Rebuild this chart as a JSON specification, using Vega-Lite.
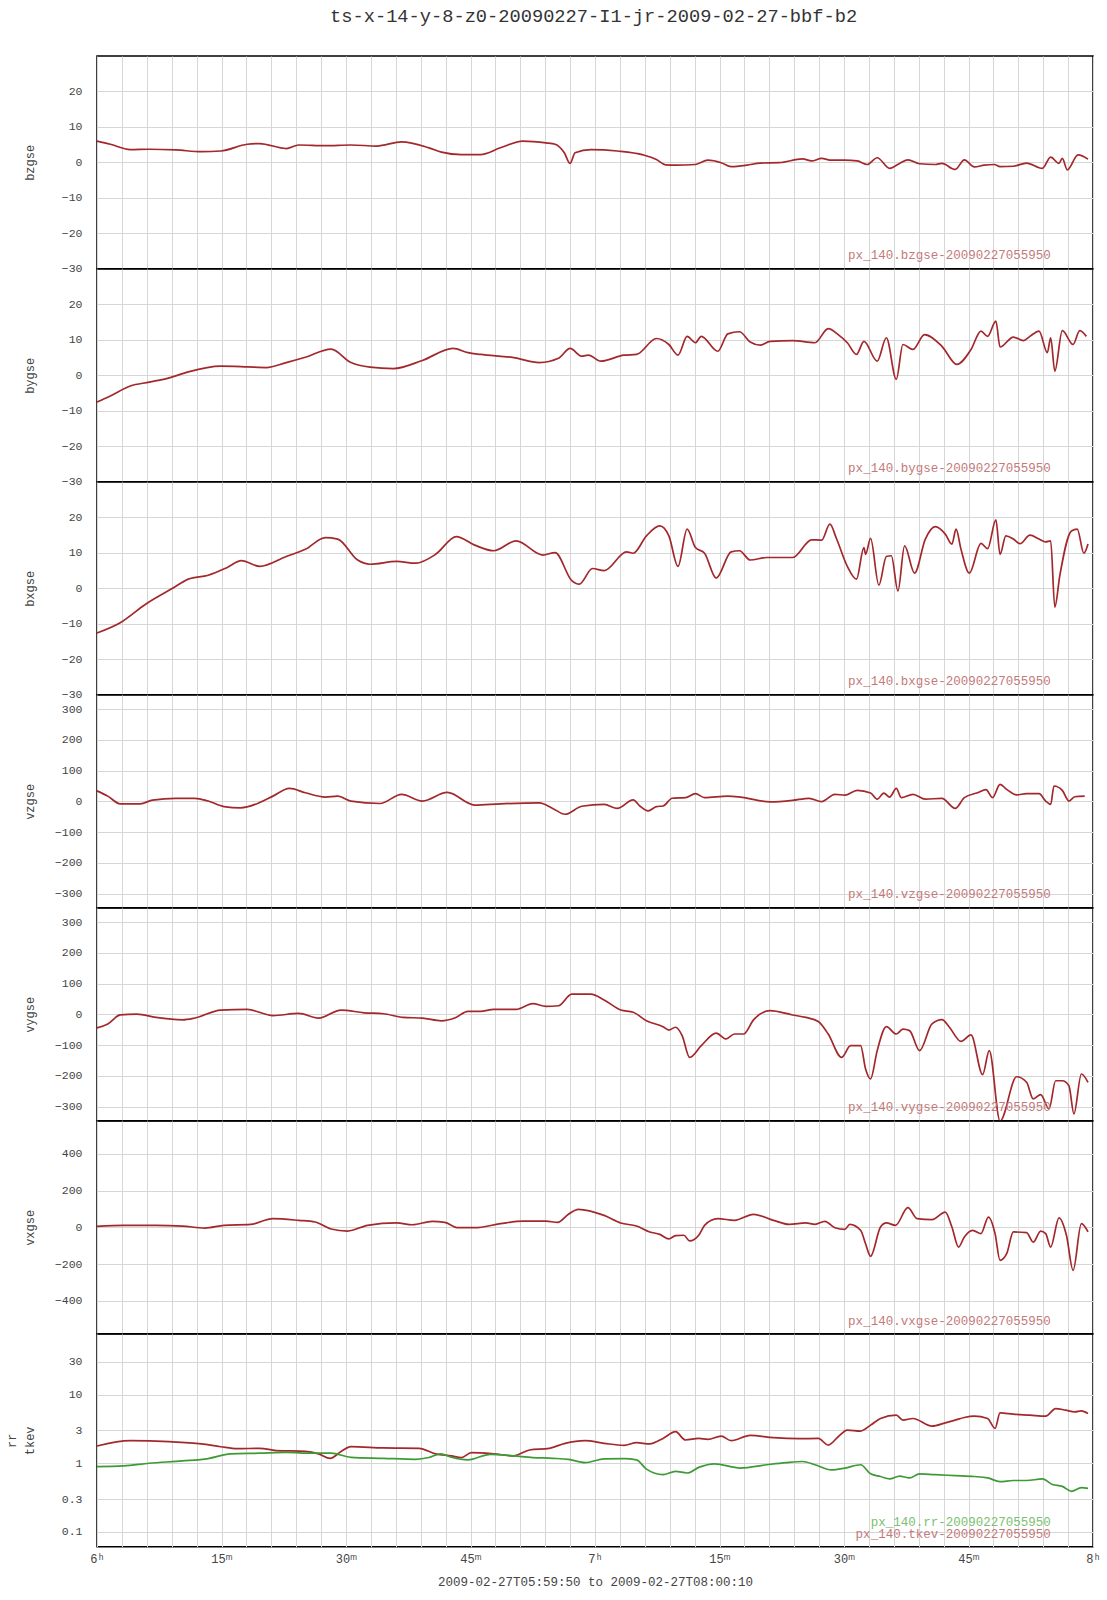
{
  "$schema": "https://vega.github.io/schema/vega-lite/v6.json",
  "padding": {"left": 4, "top": 6, "right": 10, "bottom": 4},
  "title": {"text": "ts-x-14-y-8-z0-20090227-I1-jr-2009-02-27-bbf-b2", "font": "Liberation Mono", "fontSize": 18.7, "fontWeight": "normal", "color": "#333333", "offset": 30, "anchor": "middle", "dx": 41},
  "spacing": 0,
  "bounds": "flush",
  "datasets": {
    "bz": [{"t":0,"v":6.0},{"t":1.6,"v":5.1},{"t":4.0,"v":3.6},{"t":6.3,"v":3.7},{"t":9.5,"v":3.5},{"t":12.6,"v":3.0},{"t":14.9,"v":3.2},{"t":18.1,"v":5.1},{"t":19.6,"v":5.3},{"t":22.8,"v":3.9},{"t":24.3,"v":4.9},{"t":27.5,"v":4.7},{"t":30.6,"v":4.9},{"t":33.7,"v":4.6},{"t":36.7,"v":5.8},{"t":40.0,"v":4.1},{"t":41.5,"v":2.9},{"t":43.9,"v":2.2},{"t":46.2,"v":2.2},{"t":48.6,"v":4.1},{"t":51.3,"v":6.0},{"t":54.1,"v":5.5},{"t":55.2,"v":5.1},{"t":56.3,"v":2.7},{"t":57.0,"v":-0.3},{"t":57.6,"v":2.7},{"t":59.5,"v":3.6},{"t":62.7,"v":3.2},{"t":65.8,"v":2.1},{"t":67.4,"v":0.8},{"t":68.5,"v":-0.7},{"t":69.7,"v":-0.8},{"t":72.1,"v":-0.6},{"t":73.6,"v":0.6},{"t":75.2,"v":-0.1},{"t":76.4,"v":-1.2},{"t":78.3,"v":-0.8},{"t":79.9,"v":-0.2},{"t":82.2,"v":-0.1},{"t":85.0,"v":1.0},{"t":86.1,"v":0.4},{"t":87.3,"v":1.1},{"t":88.5,"v":0.6},{"t":90.1,"v":0.6},{"t":91.6,"v":0.4},{"t":92.8,"v":-0.6},{"t":94.0,"v":1.3},{"t":95.5,"v":-1.7},{"t":96.7,"v":-0.3},{"t":97.7,"v":0.7},{"t":99.1,"v":-0.4},{"t":101.0,"v":-0.6},{"t":101.8,"v":-0.3},{"t":103.4,"v":-2.0},{"t":104.5,"v":0.7},{"t":105.7,"v":-1.3},{"t":106.9,"v":-0.8},{"t":108.1,"v":-0.6},{"t":108.8,"v":-1.2},{"t":110.4,"v":-1.1},{"t":112.0,"v":-0.2},{"t":113.9,"v":-1.7},{"t":114.9,"v":1.5},{"t":115.9,"v":-0.3},{"t":116.3,"v":1.1},{"t":116.9,"v":-2.1},{"t":118.2,"v":2.1},{"t":119.4,"v":0.9}],
    "by": [{"t":0,"v":-7.5},{"t":1.6,"v":-5.8},{"t":4.0,"v":-3.0},{"t":6.3,"v":-1.9},{"t":8.7,"v":-0.7},{"t":11.0,"v":1.0},{"t":14.9,"v":2.6},{"t":18.1,"v":2.4},{"t":20.4,"v":2.2},{"t":22.8,"v":3.6},{"t":25.1,"v":5.1},{"t":28.2,"v":7.4},{"t":30.6,"v":3.6},{"t":32.9,"v":2.3},{"t":35.7,"v":1.9},{"t":39.2,"v":4.2},{"t":42.9,"v":7.6},{"t":44.7,"v":6.4},{"t":46.2,"v":5.9},{"t":50.2,"v":5.0},{"t":53.3,"v":3.6},{"t":55.6,"v":4.8},{"t":57.0,"v":7.6},{"t":58.4,"v":5.4},{"t":59.2,"v":5.7},{"t":60.7,"v":4.0},{"t":63.5,"v":5.7},{"t":65.0,"v":5.9},{"t":67.4,"v":10.4},{"t":68.9,"v":8.7},{"t":70.0,"v":5.7},{"t":71.1,"v":11.0},{"t":72.1,"v":9.2},{"t":72.8,"v":11.0},{"t":74.8,"v":6.8},{"t":76.0,"v":11.7},{"t":77.4,"v":12.3},{"t":78.7,"v":9.4},{"t":79.9,"v":8.5},{"t":81.1,"v":9.6},{"t":83.8,"v":9.8},{"t":86.5,"v":9.2},{"t":88.1,"v":13.2},{"t":89.3,"v":11.5},{"t":90.4,"v":9.2},{"t":91.5,"v":5.9},{"t":92.4,"v":9.6},{"t":94.0,"v":4.0},{"t":95.1,"v":10.6},{"t":96.3,"v":-1.1},{"t":97.1,"v":8.7},{"t":98.3,"v":7.3},{"t":99.7,"v":11.5},{"t":101.8,"v":8.2},{"t":103.6,"v":3.1},{"t":105.3,"v":7.3},{"t":106.5,"v":12.5},{"t":107.3,"v":11.0},{"t":108.3,"v":15.3},{"t":108.8,"v":8.0},{"t":110.4,"v":10.8},{"t":111.6,"v":9.8},{"t":112.4,"v":11.0},{"t":113.5,"v":12.5},{"t":114.5,"v":6.4},{"t":114.9,"v":10.6},{"t":115.4,"v":1.2},{"t":116.3,"v":12.6},{"t":117.6,"v":8.7},{"t":118.4,"v":12.6},{"t":119.2,"v":11.0}],
    "bx": [{"t":0,"v":-12.6},{"t":2.8,"v":-9.7},{"t":5.9,"v":-4.4},{"t":9.1,"v":0},{"t":11.0,"v":2.6},{"t":13.4,"v":3.7},{"t":15.7,"v":5.9},{"t":17.4,"v":7.8},{"t":19.6,"v":6.2},{"t":22.8,"v":9.0},{"t":25.1,"v":11.0},{"t":27.5,"v":14.3},{"t":29.0,"v":13.9},{"t":31.4,"v":8.0},{"t":32.9,"v":6.8},{"t":36.1,"v":7.6},{"t":38.4,"v":7.1},{"t":40.8,"v":9.6},{"t":43.3,"v":14.6},{"t":45.5,"v":12.2},{"t":47.8,"v":10.6},{"t":50.5,"v":13.4},{"t":53.7,"v":9.4},{"t":55.2,"v":10.1},{"t":57.2,"v":2.2},{"t":58.1,"v":1.2},{"t":59.7,"v":5.6},{"t":61.1,"v":5.0},{"t":63.8,"v":10.3},{"t":64.6,"v":9.9},{"t":66.2,"v":14.8},{"t":67.8,"v":17.6},{"t":68.9,"v":14.8},{"t":70.0,"v":6.2},{"t":71.1,"v":16.7},{"t":72.1,"v":11.5},{"t":73.2,"v":9.9},{"t":74.6,"v":2.9},{"t":76.4,"v":10.3},{"t":77.4,"v":10.6},{"t":78.7,"v":8.0},{"t":80.7,"v":8.7},{"t":83.8,"v":8.7},{"t":86.1,"v":13.7},{"t":87.3,"v":13.6},{"t":88.3,"v":18.1},{"t":89.1,"v":14.0},{"t":90.4,"v":6.2},{"t":91.5,"v":2.6},{"t":92.4,"v":11.5},{"t":92.6,"v":9.6},{"t":93.2,"v":14.1},{"t":94.2,"v":0.9},{"t":95.1,"v":9.0},{"t":95.7,"v":9.2},{"t":96.5,"v":-0.7},{"t":97.3,"v":12.0},{"t":98.5,"v":4.3},{"t":99.8,"v":13.9},{"t":101.0,"v":17.4},{"t":102.2,"v":15.3},{"t":103.0,"v":12.5},{"t":103.5,"v":16.7},{"t":104.1,"v":11.0},{"t":105.1,"v":4.3},{"t":106.5,"v":12.7},{"t":107.3,"v":11.2},{"t":108.3,"v":19.3},{"t":108.8,"v":9.6},{"t":109.5,"v":14.8},{"t":110.4,"v":13.9},{"t":111.2,"v":12.6},{"t":112.4,"v":15.0},{"t":113.5,"v":13.9},{"t":114.3,"v":13.1},{"t":114.9,"v":13.4},{"t":115.4,"v":-5.3},{"t":116.0,"v":3.6},{"t":117.4,"v":16.2},{"t":118.1,"v":16.7},{"t":118.9,"v":9.9},{"t":119.4,"v":12.5}],
    "vz": [{"t":0,"v":34},{"t":1.3,"v":17},{"t":2.8,"v":-8},{"t":5.2,"v":-8},{"t":6.7,"v":4},{"t":9.5,"v":10},{"t":11.8,"v":10},{"t":13.4,"v":1},{"t":15.3,"v":-17},{"t":17.3,"v":-21},{"t":19.6,"v":-4},{"t":21.2,"v":17},{"t":23.2,"v":42},{"t":25.1,"v":28},{"t":27.5,"v":14},{"t":29.0,"v":17},{"t":30.6,"v":1},{"t":34.1,"v":-7},{"t":36.7,"v":23},{"t":39.2,"v":1},{"t":42.2,"v":29},{"t":45.5,"v":-12},{"t":48.6,"v":-8},{"t":53.3,"v":-5},{"t":54.9,"v":-23},{"t":56.4,"v":-42},{"t":58.4,"v":-16},{"t":61.1,"v":-10},{"t":62.7,"v":-23},{"t":64.6,"v":5},{"t":65.4,"v":-15},{"t":66.4,"v":-31},{"t":67.4,"v":-17},{"t":68.2,"v":-15},{"t":69.3,"v":10},{"t":70.9,"v":12},{"t":72.1,"v":25},{"t":73.2,"v":12},{"t":76.0,"v":17},{"t":77.5,"v":14},{"t":81.1,"v":-2},{"t":83.8,"v":3},{"t":85.8,"v":10},{"t":87.3,"v":-1},{"t":88.9,"v":23},{"t":90.1,"v":20},{"t":91.6,"v":36},{"t":93.2,"v":27},{"t":94.0,"v":7},{"t":94.8,"v":27},{"t":95.5,"v":14},{"t":96.3,"v":42},{"t":96.9,"v":12},{"t":98.3,"v":23},{"t":99.8,"v":7},{"t":101.8,"v":10},{"t":103.4,"v":-23},{"t":104.5,"v":12},{"t":106.1,"v":28},{"t":107.1,"v":38},{"t":107.9,"v":12},{"t":108.8,"v":55},{"t":109.6,"v":39},{"t":110.8,"v":21},{"t":112.0,"v":25},{"t":113.5,"v":25},{"t":114.3,"v":1},{"t":114.9,"v":-10},{"t":115.3,"v":50},{"t":116.3,"v":36},{"t":117.1,"v":1},{"t":117.8,"v":15},{"t":119.0,"v":17}],
    "vy": [{"t":0,"v":-44},{"t":1.3,"v":-31},{"t":2.8,"v":-2},{"t":4.8,"v":1},{"t":7.1,"v":-10},{"t":10.3,"v":-18},{"t":11.8,"v":-12},{"t":14.9,"v":14},{"t":18.1,"v":16},{"t":21.2,"v":-4},{"t":24.3,"v":3},{"t":26.7,"v":-12},{"t":29.4,"v":14},{"t":32.2,"v":5},{"t":34.5,"v":2},{"t":36.9,"v":-10},{"t":39.2,"v":-12},{"t":41.5,"v":-21},{"t":43.1,"v":-12},{"t":44.7,"v":10},{"t":46.2,"v":10},{"t":47.8,"v":16},{"t":50.5,"v":16},{"t":52.5,"v":35},{"t":54.1,"v":26},{"t":55.6,"v":28},{"t":57.2,"v":66},{"t":59.5,"v":66},{"t":61.1,"v":47},{"t":63.1,"v":14},{"t":64.6,"v":7},{"t":66.2,"v":-21},{"t":68.2,"v":-40},{"t":68.9,"v":-51},{"t":69.7,"v":-42},{"t":70.5,"v":-69},{"t":71.4,"v":-140},{"t":72.8,"v":-102},{"t":74.6,"v":-61},{"t":75.8,"v":-80},{"t":76.8,"v":-64},{"t":77.9,"v":-64},{"t":79.1,"v":-18},{"t":81.1,"v":12},{"t":83.8,"v":-2},{"t":85.4,"v":-10},{"t":86.9,"v":-23},{"t":88.1,"v":-64},{"t":89.7,"v":-140},{"t":90.8,"v":-102},{"t":92.0,"v":-102},{"t":92.6,"v":-178},{"t":93.2,"v":-210},{"t":94.0,"v":-118},{"t":95.1,"v":-40},{"t":96.3,"v":-64},{"t":97.1,"v":-48},{"t":97.9,"v":-53},{"t":99.1,"v":-118},{"t":100.6,"v":-31},{"t":101.8,"v":-17},{"t":102.7,"v":-42},{"t":104.1,"v":-88},{"t":105.3,"v":-67},{"t":106.7,"v":-196},{"t":107.5,"v":-118},{"t":108.8,"v":-347},{"t":110.8,"v":-203},{"t":112.0,"v":-221},{"t":112.8,"v":-275},{"t":113.7,"v":-261},{"t":114.7,"v":-308},{"t":115.5,"v":-216},{"t":116.3,"v":-216},{"t":117.1,"v":-232},{"t":117.7,"v":-324},{"t":118.6,"v":-194},{"t":119.4,"v":-221}],
    "vx": [{"t":0,"v":5},{"t":3.2,"v":11},{"t":7.1,"v":11},{"t":10.3,"v":7},{"t":13.0,"v":-4},{"t":15.3,"v":11},{"t":18.5,"v":16},{"t":21.2,"v":47},{"t":24.3,"v":38},{"t":26.3,"v":29},{"t":28.2,"v":-9},{"t":30.2,"v":-20},{"t":32.6,"v":11},{"t":36.1,"v":24},{"t":38.0,"v":14},{"t":40.4,"v":33},{"t":41.9,"v":27},{"t":43.5,"v":-2},{"t":45.5,"v":-2},{"t":48.6,"v":20},{"t":51.3,"v":34},{"t":54.1,"v":34},{"t":55.5,"v":27},{"t":56.8,"v":71},{"t":58.0,"v":98},{"t":61.1,"v":65},{"t":63.1,"v":24},{"t":65.0,"v":7},{"t":66.6,"v":-25},{"t":67.8,"v":-38},{"t":68.9,"v":-63},{"t":69.7,"v":-45},{"t":70.7,"v":-43},{"t":71.4,"v":-74},{"t":72.5,"v":-43},{"t":73.2,"v":11},{"t":74.8,"v":47},{"t":76.8,"v":38},{"t":79.1,"v":71},{"t":81.5,"v":38},{"t":83.4,"v":16},{"t":85.4,"v":24},{"t":86.5,"v":16},{"t":87.7,"v":33},{"t":88.9,"v":-2},{"t":90.1,"v":-11},{"t":90.7,"v":16},{"t":92.0,"v":-16},{"t":92.6,"v":-89},{"t":93.2,"v":-157},{"t":94.4,"v":2},{"t":95.1,"v":24},{"t":96.2,"v":11},{"t":97.7,"v":107},{"t":98.8,"v":47},{"t":100.6,"v":42},{"t":102.2,"v":83},{"t":103.0,"v":2},{"t":103.8,"v":-107},{"t":104.5,"v":-52},{"t":105.5,"v":-16},{"t":106.5,"v":-34},{"t":107.4,"v":56},{"t":108.2,"v":-34},{"t":108.8,"v":-179},{"t":109.6,"v":-143},{"t":110.4,"v":-25},{"t":112.0,"v":-29},{"t":112.8,"v":-80},{"t":113.7,"v":-20},{"t":114.3,"v":-34},{"t":114.9,"v":-107},{"t":115.9,"v":52},{"t":116.8,"v":-43},{"t":117.6,"v":-234},{"t":118.6,"v":20},{"t":119.4,"v":-25}],
    "tkev": [{"t":0,"v":1.78},{"t":4.0,"v":2.13},{"t":8.7,"v":2.06},{"t":12.6,"v":1.91},{"t":14.9,"v":1.74},{"t":16.9,"v":1.63},{"t":19.6,"v":1.65},{"t":21.6,"v":1.53},{"t":25.1,"v":1.49},{"t":26.7,"v":1.37},{"t":28.1,"v":1.18},{"t":29.4,"v":1.48},{"t":30.6,"v":1.74},{"t":34.5,"v":1.67},{"t":38.8,"v":1.65},{"t":40.8,"v":1.37},{"t":42.7,"v":1.28},{"t":43.9,"v":1.21},{"t":45.1,"v":1.43},{"t":47.8,"v":1.37},{"t":50.2,"v":1.28},{"t":52.1,"v":1.56},{"t":54.5,"v":1.65},{"t":56.4,"v":1.95},{"t":58.8,"v":2.13},{"t":61.1,"v":1.95},{"t":63.5,"v":1.82},{"t":65.0,"v":1.99},{"t":66.6,"v":1.91},{"t":68.2,"v":2.30},{"t":69.7,"v":2.88},{"t":70.9,"v":2.18},{"t":72.5,"v":2.30},{"t":73.6,"v":2.23},{"t":75.2,"v":2.49},{"t":76.4,"v":2.13},{"t":78.7,"v":2.55},{"t":81.5,"v":2.36},{"t":84.6,"v":2.28},{"t":86.9,"v":2.30},{"t":88.1,"v":1.84},{"t":89.3,"v":2.43},{"t":90.4,"v":3.04},{"t":92.0,"v":2.94},{"t":93.2,"v":3.59},{"t":94.4,"v":4.49},{"t":96.3,"v":5.02},{"t":97.1,"v":4.25},{"t":98.3,"v":4.49},{"t":100.6,"v":3.47},{"t":102.2,"v":3.88},{"t":103.4,"v":4.25},{"t":104.5,"v":4.64},{"t":105.7,"v":4.85},{"t":107.3,"v":4.49},{"t":108.2,"v":3.22},{"t":108.8,"v":5.42},{"t":110.4,"v":5.19},{"t":112.4,"v":5.02},{"t":114.3,"v":4.85},{"t":115.5,"v":6.27},{"t":116.7,"v":5.93},{"t":117.8,"v":5.61},{"t":118.6,"v":5.80},{"t":119.4,"v":5.31}],
    "rr": [{"t":0,"v":0.895},{"t":3.2,"v":0.915},{"t":6.3,"v":1.0},{"t":10.3,"v":1.08},{"t":13.4,"v":1.17},{"t":16.1,"v":1.37},{"t":19.6,"v":1.40},{"t":22.8,"v":1.44},{"t":25.9,"v":1.40},{"t":28.2,"v":1.40},{"t":30.6,"v":1.22},{"t":34.5,"v":1.18},{"t":38.4,"v":1.14},{"t":40.0,"v":1.21},{"t":41.4,"v":1.37},{"t":42.7,"v":1.22},{"t":44.7,"v":1.12},{"t":47.4,"v":1.35},{"t":50.2,"v":1.28},{"t":52.5,"v":1.21},{"t":54.9,"v":1.18},{"t":56.8,"v":1.14},{"t":58.8,"v":1.02},{"t":61.1,"v":1.16},{"t":63.5,"v":1.17},{"t":65.0,"v":1.12},{"t":66.2,"v":0.82},{"t":68.2,"v":0.68},{"t":69.7,"v":0.76},{"t":71.1,"v":0.72},{"t":72.5,"v":0.87},{"t":74.4,"v":0.98},{"t":77.5,"v":0.85},{"t":80.7,"v":0.95},{"t":83.0,"v":1.02},{"t":85.0,"v":1.06},{"t":86.5,"v":0.95},{"t":88.5,"v":0.80},{"t":90.1,"v":0.85},{"t":92.0,"v":0.95},{"t":93.2,"v":0.70},{"t":94.4,"v":0.64},{"t":95.5,"v":0.59},{"t":96.7,"v":0.65},{"t":97.9,"v":0.61},{"t":99.1,"v":0.70},{"t":101.0,"v":0.68},{"t":103.4,"v":0.66},{"t":105.7,"v":0.64},{"t":107.3,"v":0.61},{"t":108.8,"v":0.54},{"t":110.4,"v":0.56},{"t":112.0,"v":0.56},{"t":113.9,"v":0.59},{"t":115.1,"v":0.49},{"t":116.3,"v":0.46},{"t":117.4,"v":0.39},{"t":118.6,"v":0.44},{"t":119.4,"v":0.43}]
  },
  "vconcat": [
    {
      "width": 996, "height": 212.7,
      "layer": [
        {"data": {"name": "bz"}, "mark": {"type": "line", "color": "#a3282c", "strokeWidth": 1.7, "interpolate": "monotone"},
         "encoding": {
           "x": {"field": "t", "type": "quantitative", "scale": {"domain": [0, 120], "nice": false, "zero": false},
                 "axis": {"values": [0,3,6,9,12,15,18,21,24,27,30,33,36,39,42,45,48,51,54,57,60,63,66,69,72,75,78,81,84,87,90,93,96,99,102,105,108,111,114,117,120], "tickCount": 100, "labels": false, "title": null}},
           "y": {"field": "v", "type": "quantitative", "scale": {"domain": [-30, 30], "nice": false, "zero": false},
                 "axis": {"values": [-30,-20,-10,0,10,20], "tickCount": 20, "title": "bzgse"}}
         }},
        {"mark": {"type": "rule", "color": "black", "strokeWidth": 1.3}, "encoding": {"y": {"datum": 0}}},
        {"data": {"values": [{"label": "px_140.bzgse-20090227055950"}]},
         "mark": {"type": "text", "align": "right", "baseline": "alphabetic", "font": "Liberation Mono", "fontSize": 12.5, "color": "#c47a7a"},
         "encoding": {"x": {"datum": 114.9}, "y": {"datum": -27.4}, "text": {"field": "label"}}}
      ]
    },
    {
      "width": 996, "height": 212.7,
      "layer": [
        {"data": {"name": "by"}, "mark": {"type": "line", "color": "#a3282c", "strokeWidth": 1.7, "interpolate": "monotone"},
         "encoding": {
           "x": {"field": "t", "type": "quantitative", "scale": {"domain": [0, 120], "nice": false, "zero": false},
                 "axis": {"values": [0,3,6,9,12,15,18,21,24,27,30,33,36,39,42,45,48,51,54,57,60,63,66,69,72,75,78,81,84,87,90,93,96,99,102,105,108,111,114,117,120], "tickCount": 100, "labels": false, "title": null}},
           "y": {"field": "v", "type": "quantitative", "scale": {"domain": [-30, 30], "nice": false, "zero": false},
                 "axis": {"values": [-30,-20,-10,0,10,20], "tickCount": 20, "title": "bygse"}}
         }},
        {"mark": {"type": "rule", "color": "black", "strokeWidth": 1.3}, "encoding": {"y": {"datum": 0}}},
        {"data": {"values": [{"label": "px_140.bygse-20090227055950"}]},
         "mark": {"type": "text", "align": "right", "baseline": "alphabetic", "font": "Liberation Mono", "fontSize": 12.5, "color": "#c47a7a"},
         "encoding": {"x": {"datum": 114.9}, "y": {"datum": -27.4}, "text": {"field": "label"}}}
      ]
    },
    {
      "width": 996, "height": 212.7,
      "layer": [
        {"data": {"name": "bx"}, "mark": {"type": "line", "color": "#a3282c", "strokeWidth": 1.7, "interpolate": "monotone"},
         "encoding": {
           "x": {"field": "t", "type": "quantitative", "scale": {"domain": [0, 120], "nice": false, "zero": false},
                 "axis": {"values": [0,3,6,9,12,15,18,21,24,27,30,33,36,39,42,45,48,51,54,57,60,63,66,69,72,75,78,81,84,87,90,93,96,99,102,105,108,111,114,117,120], "tickCount": 100, "labels": false, "title": null}},
           "y": {"field": "v", "type": "quantitative", "scale": {"domain": [-30, 30], "nice": false, "zero": false},
                 "axis": {"values": [-30,-20,-10,0,10,20], "tickCount": 20, "title": "bxgse"}}
         }},
        {"mark": {"type": "rule", "color": "black", "strokeWidth": 1.3}, "encoding": {"y": {"datum": 0}}},
        {"data": {"values": [{"label": "px_140.bxgse-20090227055950"}]},
         "mark": {"type": "text", "align": "right", "baseline": "alphabetic", "font": "Liberation Mono", "fontSize": 12.5, "color": "#c47a7a"},
         "encoding": {"x": {"datum": 114.9}, "y": {"datum": -27.4}, "text": {"field": "label"}}}
      ]
    },
    {
      "width": 996, "height": 212.7,
      "layer": [
        {"data": {"name": "vz"}, "mark": {"type": "line", "color": "#a3282c", "strokeWidth": 1.7, "interpolate": "monotone"},
         "encoding": {
           "x": {"field": "t", "type": "quantitative", "scale": {"domain": [0, 120], "nice": false, "zero": false},
                 "axis": {"values": [0,3,6,9,12,15,18,21,24,27,30,33,36,39,42,45,48,51,54,57,60,63,66,69,72,75,78,81,84,87,90,93,96,99,102,105,108,111,114,117,120], "tickCount": 100, "labels": false, "title": null}},
           "y": {"field": "v", "type": "quantitative", "scale": {"domain": [-346, 346], "nice": false, "zero": false},
                 "axis": {"values": [-300,-200,-100,0,100,200,300], "tickCount": 20, "title": "vzgse"}}
         }},
        {"data": {"values": [{"label": "px_140.vzgse-20090227055950"}]},
         "mark": {"type": "text", "align": "right", "baseline": "alphabetic", "font": "Liberation Mono", "fontSize": 12.5, "color": "#c47a7a"},
         "encoding": {"x": {"datum": 114.9}, "y": {"datum": -315}, "text": {"field": "label"}}}
      ]
    },
    {
      "width": 996, "height": 212.7,
      "layer": [
        {"data": {"name": "vy"}, "mark": {"type": "line", "color": "#a3282c", "strokeWidth": 1.7, "interpolate": "monotone"},
         "encoding": {
           "x": {"field": "t", "type": "quantitative", "scale": {"domain": [0, 120], "nice": false, "zero": false},
                 "axis": {"values": [0,3,6,9,12,15,18,21,24,27,30,33,36,39,42,45,48,51,54,57,60,63,66,69,72,75,78,81,84,87,90,93,96,99,102,105,108,111,114,117,120], "tickCount": 100, "labels": false, "title": null}},
           "y": {"field": "v", "type": "quantitative", "scale": {"domain": [-346, 346], "nice": false, "zero": false},
                 "axis": {"values": [-300,-200,-100,0,100,200,300], "tickCount": 20, "title": "vygse"}}
         }},
        {"data": {"values": [{"label": "px_140.vygse-20090227055950"}]},
         "mark": {"type": "text", "align": "right", "baseline": "alphabetic", "font": "Liberation Mono", "fontSize": 12.5, "color": "#c47a7a"},
         "encoding": {"x": {"datum": 114.9}, "y": {"datum": -315}, "text": {"field": "label"}}}
      ]
    },
    {
      "width": 996, "height": 212.7,
      "layer": [
        {"data": {"name": "vx"}, "mark": {"type": "line", "color": "#a3282c", "strokeWidth": 1.7, "interpolate": "monotone"},
         "encoding": {
           "x": {"field": "t", "type": "quantitative", "scale": {"domain": [0, 120], "nice": false, "zero": false},
                 "axis": {"values": [0,3,6,9,12,15,18,21,24,27,30,33,36,39,42,45,48,51,54,57,60,63,66,69,72,75,78,81,84,87,90,93,96,99,102,105,108,111,114,117,120], "tickCount": 100, "labels": false, "title": null}},
           "y": {"field": "v", "type": "quantitative", "scale": {"domain": [-578, 578], "nice": false, "zero": false},
                 "axis": {"values": [-400,-200,0,200,400], "tickCount": 20, "title": "vxgse"}}
         }},
        {"mark": {"type": "rule", "color": "black", "strokeWidth": 1.3}, "encoding": {"y": {"datum": 0}}},
        {"data": {"values": [{"label": "px_140.vxgse-20090227055950"}]},
         "mark": {"type": "text", "align": "right", "baseline": "alphabetic", "font": "Liberation Mono", "fontSize": 12.5, "color": "#c47a7a"},
         "encoding": {"x": {"datum": 114.9}, "y": {"datum": -528}, "text": {"field": "label"}}}
      ]
    },
    {
      "width": 996, "height": 212.7,
      "layer": [
        {"data": {"name": "tkev"}, "mark": {"type": "line", "color": "#a3282c", "strokeWidth": 1.7, "interpolate": "monotone"},
         "encoding": {
           "x": {"field": "t", "type": "quantitative", "scale": {"domain": [0, 120], "nice": false, "zero": false},
                 "axis": {"values": [0,3,6,9,12,15,18,21,24,27,30,33,36,39,42,45,48,51,54,57,60,63,66,69,72,75,78,81,84,87,90,93,96,99,102,105,108,111,114,117,120], "tickCount": 100, "labels": true, "labelFlush": false, "labelFontSize": 12, "labelPadding": 7, "labelBaseline": "top",
                          "labelExpr": "datum.value == 0 ? '6ʰ' : datum.value == 60 ? '7ʰ' : datum.value == 120 ? '8ʰ' : datum.value % 15 == 0 ? (datum.value % 60) + 'ᵐ' : ''",
                          "title": "2009-02-27T05:59:50 to 2009-02-27T08:00:10", "titleFontSize": 12.5, "titlePadding": 11}},
           "y": {"field": "v", "type": "quantitative", "scale": {"type": "log", "domain": [0.0607, 76.5], "nice": false},
                 "axis": {"values": [0.1,0.3,1,3,10,30], "tickCount": 20, "title": ["rr", "tkev"], "titleLineHeight": 18, "titleX": -79}}
         }},
        {"data": {"name": "rr"}, "mark": {"type": "line", "color": "#3d9a35", "strokeWidth": 1.7, "interpolate": "monotone"},
         "encoding": {"x": {"field": "t", "type": "quantitative"}, "y": {"field": "v", "type": "quantitative"}}},
        {"mark": {"type": "rule", "color": "black", "strokeWidth": 1.3}, "encoding": {"y": {"datum": 1}}},
        {"data": {"values": [{"label": "px_140.rr-20090227055950"}]},
         "mark": {"type": "text", "align": "right", "baseline": "alphabetic", "font": "Liberation Mono", "fontSize": 12.5, "color": "#7cc06f"},
         "encoding": {"x": {"datum": 114.9}, "y": {"datum": 0.123}, "text": {"field": "label"}}},
        {"data": {"values": [{"label": "px_140.tkev-20090227055950"}]},
         "mark": {"type": "text", "align": "right", "baseline": "alphabetic", "font": "Liberation Mono", "fontSize": 12.5, "color": "#c47a7a"},
         "encoding": {"x": {"datum": 114.9}, "y": {"datum": 0.0807}, "text": {"field": "label"}}}
      ]
    }
  ],
  "config": {
    "view": {"stroke": "black", "strokeWidth": 1.5},
    "font": "Liberation Mono",
    "axis": {"grid": true, "gridColor": "#d6d6d6", "gridWidth": 1, "domain": false, "ticks": false, "labelOverlap": false,
             "labelFont": "Liberation Mono", "labelFontSize": 11.5, "labelColor": "#444444", "labelPadding": 15,
             "titleFont": "Liberation Mono", "titleFontSize": 12, "titleFontWeight": "normal", "titleColor": "#444444"},
    "axisY": {"titleX": -61}
  }
}
